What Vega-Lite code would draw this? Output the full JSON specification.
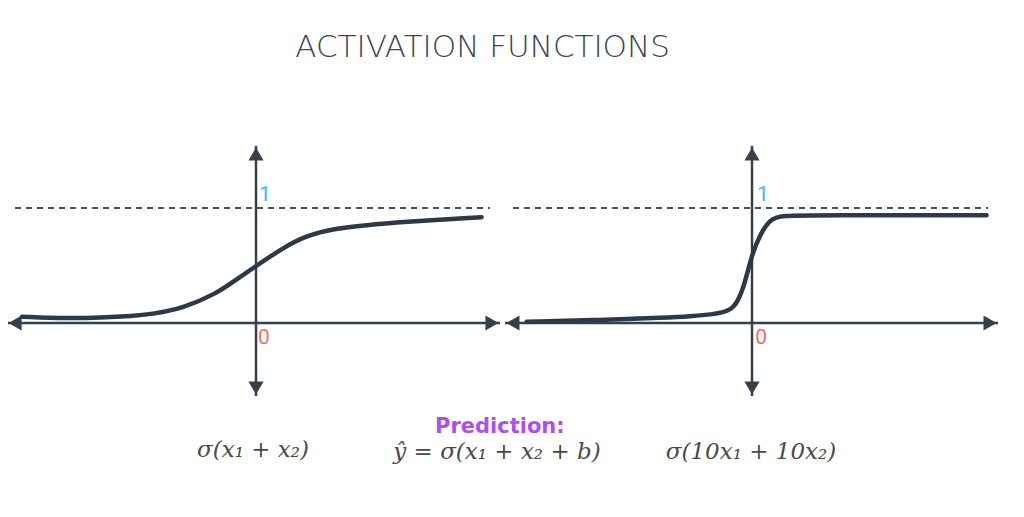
{
  "$schema": "https://vega.github.io/schema/vega-lite/v6.json",
  "width": 1024,
  "height": 517,
  "autosize": {"type": "fit", "contains": "padding"},
  "padding": 0,
  "background": "white",
  "config": {"view": {"stroke": null}},
  "datasets": {
    "curves": [
      {"panel": "left", "x": -7.31, "y": 0.055},
      {"panel": "left", "x": -5.92, "y": 0.04},
      {"panel": "left", "x": -4.88, "y": 0.047},
      {"panel": "left", "x": -3.83, "y": 0.062},
      {"panel": "left", "x": -3.31, "y": 0.075},
      {"panel": "left", "x": -2.27, "y": 0.128},
      {"panel": "left", "x": -1.23, "y": 0.258},
      {"panel": "left", "x": -0.71, "y": 0.36},
      {"panel": "left", "x": -0.03, "y": 0.49},
      {"panel": "left", "x": 0.85, "y": 0.655},
      {"panel": "left", "x": 1.58, "y": 0.76},
      {"panel": "left", "x": 2.42, "y": 0.82},
      {"panel": "left", "x": 3.46, "y": 0.852},
      {"panel": "left", "x": 4.5, "y": 0.877},
      {"panel": "left", "x": 7.05, "y": 0.92},
      {"panel": "right", "x": 8.46, "y": 0.01},
      {"panel": "right", "x": 10.75, "y": 0.026},
      {"panel": "right", "x": 12.83, "y": 0.047},
      {"panel": "right", "x": 13.56, "y": 0.058},
      {"panel": "right", "x": 14.3, "y": 0.075},
      {"panel": "right", "x": 14.81, "y": 0.105},
      {"panel": "right", "x": 15.05, "y": 0.18},
      {"panel": "right", "x": 15.28, "y": 0.345},
      {"panel": "right", "x": 15.49, "y": 0.59},
      {"panel": "right", "x": 15.75, "y": 0.77},
      {"panel": "right", "x": 16.06, "y": 0.9},
      {"panel": "right", "x": 16.375, "y": 0.935},
      {"panel": "right", "x": 17.73, "y": 0.938},
      {"panel": "right", "x": 22.83, "y": 0.937}
    ],
    "axes": [
      {"x": -7.75, "x2": 7.625, "y": 0, "y2": 0},
      {"x": 0, "x2": 0, "y": 1.54, "y2": -0.635},
      {"x": 7.78, "x2": 23.19, "y": 0, "y2": 0},
      {"x": 15.5, "x2": 15.5, "y": 1.54, "y2": -0.635}
    ],
    "dashes": [
      {"x": -7.53, "x2": 7.31, "y": 1},
      {"x": 8.03, "x2": 22.875, "y": 1}
    ],
    "arrows": [
      {"x": -7.53, "y": 0, "dir": "triangle-left"},
      {"x": 7.375, "y": 0, "dir": "triangle-right"},
      {"x": 0, "y": 1.47, "dir": "triangle-up"},
      {"x": 0, "y": -0.565, "dir": "triangle-down"},
      {"x": 8.03, "y": 0, "dir": "triangle-left"},
      {"x": 22.94, "y": 0, "dir": "triangle-right"},
      {"x": 15.5, "y": 1.47, "dir": "triangle-up"},
      {"x": 15.5, "y": -0.565, "dir": "triangle-down"}
    ],
    "ones": [
      {"x": 0.094, "y": 1.11, "label": "1"},
      {"x": 15.66, "y": 1.11, "label": "1"}
    ],
    "zeros": [
      {"x": 0.06, "y": -0.13, "label": "0"},
      {"x": 15.6, "y": -0.13, "label": "0"}
    ],
    "title": [
      {"x": 7.08, "y": 2.39, "label": "ACTIVATION FUNCTIONS"}
    ],
    "formulas": [
      {"x": -0.094, "y": -1.104, "label": "σ(x₁ + x₂)"},
      {"x": 7.53, "y": -1.12, "label": "ŷ = σ(x₁ + x₂ + b)"},
      {"x": 15.47, "y": -1.12, "label": "σ(10x₁ + 10x₂)"}
    ],
    "prediction": [
      {"x": 7.62, "y": -0.904, "label": "Prediction:"}
    ]
  },
  "encoding": {
    "x": {"field": "x", "type": "quantitative", "scale": {"domain": [-8, 24], "nice": false, "zero": false}, "axis": null},
    "y": {"field": "y", "type": "quantitative", "scale": {"domain": [-1.687, 2.809], "nice": false, "zero": false}, "axis": null}
  },
  "layer": [
    {
      "data": {"name": "dashes"},
      "mark": {"type": "rule", "color": "#4a4f55", "strokeWidth": 2, "strokeDash": [6, 5]},
      "encoding": {"x2": {"field": "x2"}}
    },
    {
      "data": {"name": "axes"},
      "mark": {"type": "rule", "color": "#34414d", "strokeWidth": 2.5},
      "encoding": {"x2": {"field": "x2"}, "y2": {"field": "y2"}}
    },
    {
      "data": {"name": "arrows"},
      "mark": {"type": "point", "filled": true, "color": "#34414d", "opacity": 1, "size": 230},
      "encoding": {"shape": {"field": "dir", "type": "nominal", "scale": null}}
    },
    {
      "data": {"name": "curves"},
      "mark": {"type": "line", "color": "#2d3a45", "strokeWidth": 4.5, "interpolate": "basis", "strokeCap": "round"},
      "encoding": {"detail": {"field": "panel", "type": "nominal"}}
    },
    {
      "data": {"name": "ones"},
      "mark": {"type": "text", "color": "#2cc4ee", "font": "Roboto", "fontSize": 21, "align": "left", "baseline": "middle"},
      "encoding": {"text": {"field": "label"}}
    },
    {
      "data": {"name": "zeros"},
      "mark": {"type": "text", "color": "#f2705e", "font": "Roboto", "fontSize": 21, "align": "left", "baseline": "middle"},
      "encoding": {"text": {"field": "label"}}
    },
    {
      "data": {"name": "title"},
      "mark": {"type": "text", "color": "#3d4650", "font": "DejaVu Sans", "fontSize": 31, "fontWeight": 200, "align": "center", "baseline": "middle"},
      "encoding": {"text": {"field": "label"}}
    },
    {
      "data": {"name": "formulas"},
      "mark": {"type": "text", "color": "#4a4a4a", "font": "DejaVu Serif", "fontStyle": "italic", "fontSize": 23, "align": "center", "baseline": "middle"},
      "encoding": {"text": {"field": "label"}}
    },
    {
      "data": {"name": "prediction"},
      "mark": {"type": "text", "color": "#ac4ff2", "font": "DejaVu Sans", "fontSize": 21, "fontWeight": 600, "align": "center", "baseline": "middle"},
      "encoding": {"text": {"field": "label"}}
    }
  ]
}
